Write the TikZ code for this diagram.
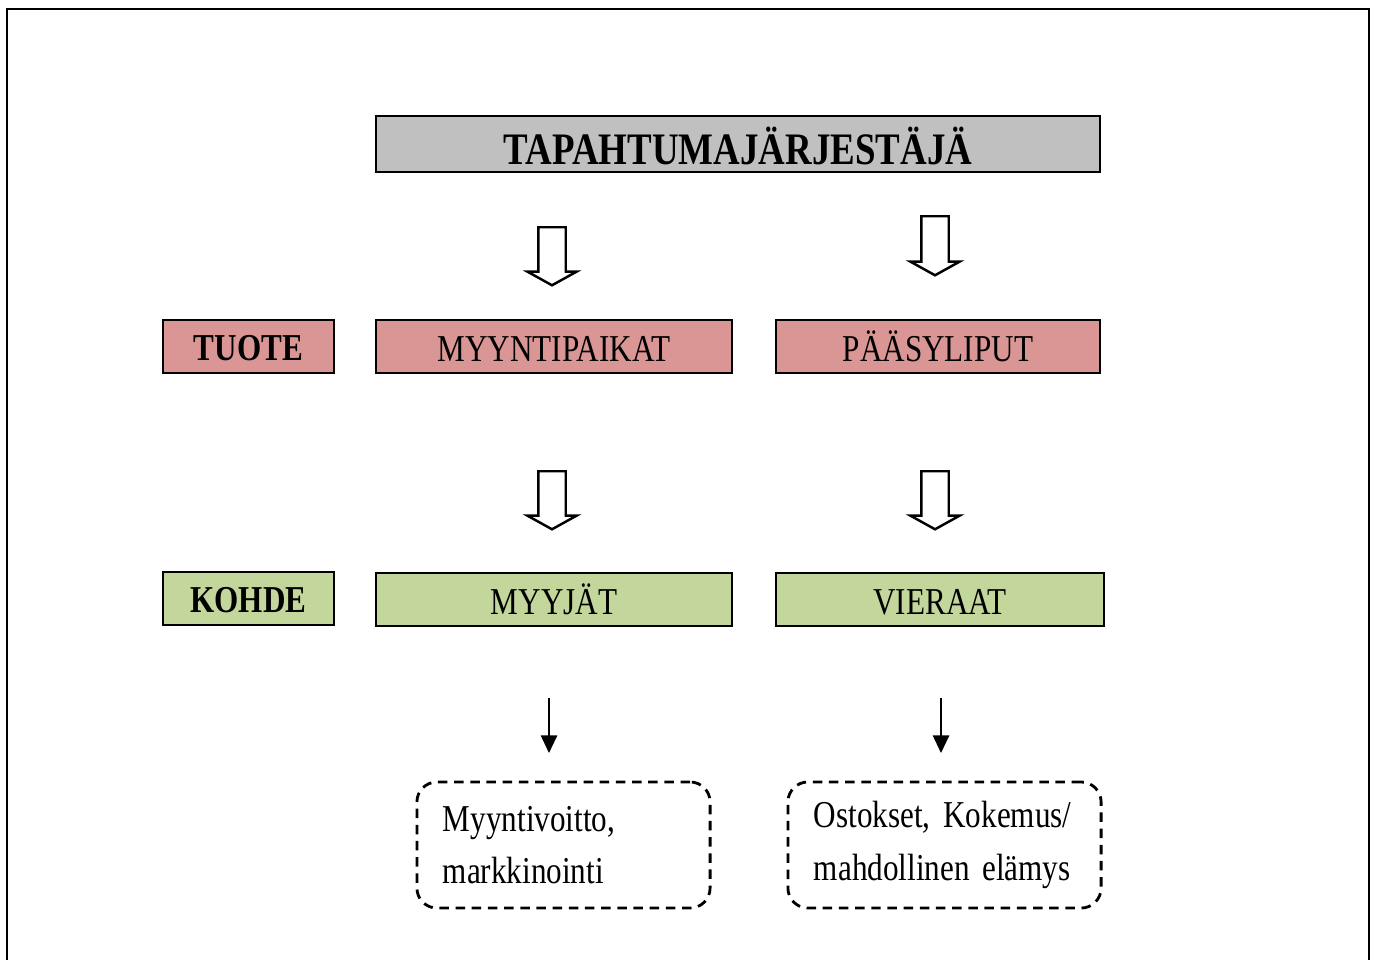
\documentclass[tikz,border=0pt]{standalone}
\usepackage{fontspec}
\setmainfont[FakeStretch=0.82, WordSpace=0.85]{Liberation Serif}
\usetikzlibrary{shapes.arrows, arrows.meta}
\definecolor{orggray}{RGB}{192,192,192}
\definecolor{productred}{RGB}{217,150,148}
\definecolor{targetgreen}{RGB}{195,214,155}
\tikzstyle{box}=[draw, line width=0.6pt, inner sep=0pt, minimum height=0.53cm, text height=8.8pt, text depth=0pt, font=\fontsize{10.8}{13}\selectfont]
\tikzstyle{label}=[box, minimum width=1.71cm, text height=8pt, font=\bfseries\fontsize{10.8}{13}\selectfont]
\tikzstyle{gain}=[draw, line width=0.8pt, dash pattern=on 2.7pt off 1.9pt, rounded corners=0.2cm, minimum height=1.26cm, inner xsep=0.26cm, inner ysep=0pt, align=left, font=\fontsize{10.8}{15}\selectfont]
\tikzstyle{blockarrow}=[single arrow, draw, line width=0.7pt, fill=white, rotate=-90, anchor=tail, inner xsep=0pt, inner ysep=0.125cm, single arrow head extend=0.11cm, single arrow tip angle=122, minimum height=0.58cm]
\tikzstyle{thinarrow}=[line width=0.6pt, -{Triangle[length=5pt, width=4.6pt]}]

\begin{document}
\begin{tikzpicture}[x=0.01cm, y=-0.01cm]
    \useasboundingbox (0,0) rectangle (1377,960);
    % frame, open at the bottom
    \draw [line width=0.8pt] (7,960) -- (7,9) -- (1369,9) -- (1369,960);

    \node [box, fill=orggray, minimum width=7.24cm, minimum height=0.56cm, text height=11.4pt, font=\bfseries\fontsize{12.8}{15}\selectfont] (org) at (738,144) {TAPAHTUMAJÄRJESTÄJÄ};

    \node [label, fill=productred] (tuote) at (248.5,346.5) {TUOTE};
    \node [box, fill=productred, minimum width=3.56cm] (paikat) at (554,346.5) {MYYNTIPAIKAT};
    \node [box, fill=productred, minimum width=3.24cm] (liput) at (938,346.5) {PÄÄSYLIPUT};

    \node [label, fill=targetgreen] (kohde) at (248.5,598.5) {KOHDE};
    \node [box, fill=targetgreen, minimum width=3.56cm] (myyjat) at (554,599.5) {MYYJÄT};
    \node [box, fill=targetgreen, minimum width=3.28cm] (vieraat) at (940,599.5) {VIERAAT};

    \node [gain, text width=2.41cm] (voitto) at (563.5,845) {Myyntivoitto,\\markkinointi};
    \node [gain, text width=2.61cm] (elamys) at (944.5,845) {Ostokset, Kokemus/\\mahdollinen elämys};

    \node [blockarrow] (a1) at (552,226) {};
    \node [blockarrow, minimum height=0.59cm] (a2) at (935,215) {};
    \node [blockarrow] (a3) at (552,470) {};
    \node [blockarrow] (a4) at (935,470) {};

    \coordinate (s1) at (549,698);
    \coordinate (e1) at (549,753);
    \coordinate (s2) at (941,698);
    \coordinate (e2) at (941,753);
    \draw [thinarrow] (s1) -- (e1);
    \draw [thinarrow] (s2) -- (e2);
\end{tikzpicture}
\end{document}
